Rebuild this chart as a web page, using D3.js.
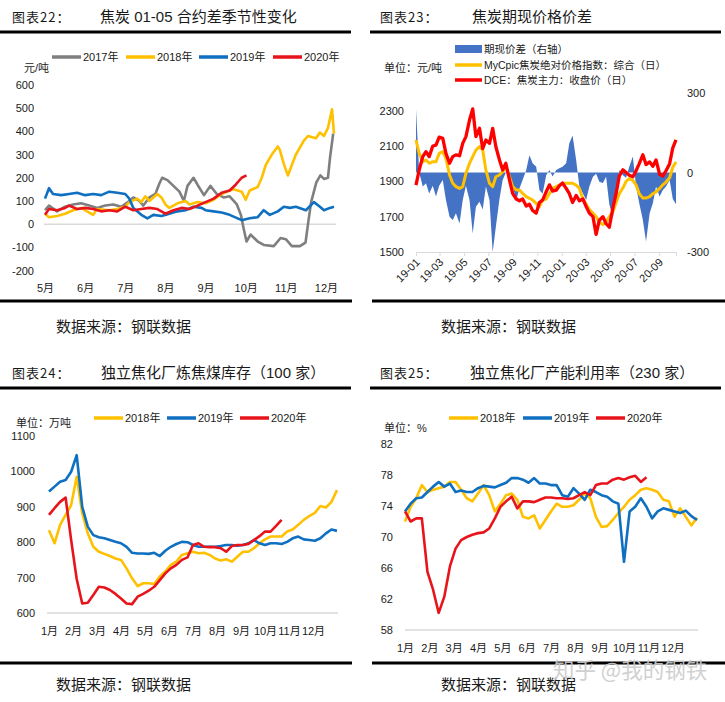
<!DOCTYPE html>
<html>
<head>
<meta charset="utf-8">
<script src="https://cdn.jsdelivr.net/npm/d3@7"></script>
<style>
  body { margin: 0; background: #fff; }
  svg text { font-family: "Liberation Sans", "Noto Sans CJK SC", sans-serif; fill: #1a1a1a; }
  .cjk { font-family: "Noto Sans CJK SC", sans-serif; }
</style>
</head>
<body>
<div id="chart"></div>
<script>
// ---------- 图表22 焦炭01-05合约差 (x: month, y: 元/吨)
var monthTicks22 = [5, 6, 7, 8, 9, 10, 11, 12];
var monthLabels22 = ["5月", "6月", "7月", "8月", "9月", "10月", "11月", "12月"];
var spread2017 = [[5.0,60],[5.1,80],[5.3,55],[5.5,75],[5.7,85],[5.9,90],[6.1,80],[6.3,70],[6.5,80],[6.7,85],[6.9,75],[7.1,100],[7.2,115],[7.35,100],[7.45,80],[7.6,115],[7.75,130],[7.85,175],[7.92,200],[8.05,190],[8.2,165],[8.35,140],[8.46,100],[8.55,165],[8.7,200],[8.8,170],[8.96,125],[9.12,165],[9.28,130],[9.45,115],[9.6,120],[9.78,85],[9.88,40],[9.95,-20],[10.02,-75],[10.12,-45],[10.3,-75],[10.45,-90],[10.7,-95],[10.87,-60],[11.0,-65],[11.15,-95],[11.35,-95],[11.49,-80],[11.56,10],[11.63,95],[11.76,180],[11.86,210],[11.95,195],[12.05,200],[12.1,285],[12.18,390]];
var spread2018 = [[5.0,45],[5.1,30],[5.3,35],[5.5,45],[5.7,60],[5.9,70],[6.1,50],[6.2,40],[6.3,65],[6.6,60],[6.8,65],[7.0,75],[7.1,95],[7.3,110],[7.4,95],[7.5,120],[7.6,100],[7.8,130],[7.9,115],[8.0,85],[8.1,70],[8.3,90],[8.5,100],[8.6,85],[8.8,95],[9.0,90],[9.2,105],[9.4,130],[9.6,145],[9.7,150],[9.9,140],[10.0,105],[10.1,145],[10.3,160],[10.4,200],[10.5,255],[10.65,300],[10.8,335],[10.85,320],[10.95,260],[11.05,210],[11.15,255],[11.25,300],[11.45,360],[11.55,380],[11.75,370],[11.85,395],[11.95,380],[12.05,415],[12.15,495],[12.2,390]];
var spread2019 = [[5.0,110],[5.1,155],[5.2,130],[5.4,125],[5.6,130],[5.8,135],[6.0,125],[6.2,130],[6.4,125],[6.6,140],[6.8,135],[7.0,130],[7.1,110],[7.2,70],[7.4,40],[7.55,25],[7.7,40],[7.9,35],[8.1,45],[8.3,55],[8.5,60],[8.7,75],[8.9,70],[9.0,60],[9.2,55],[9.4,50],[9.6,40],[9.8,25],[9.9,17],[10.1,25],[10.3,30],[10.45,60],[10.6,40],[10.8,55],[10.95,75],[11.1,70],[11.25,75],[11.5,60],[11.7,95],[11.85,75],[11.95,60],[12.1,70],[12.2,75]];
var spread2020 = [[5.0,40],[5.1,65],[5.3,60],[5.5,70],[5.6,80],[5.8,65],[6.0,70],[6.2,65],[6.4,55],[6.6,60],[6.8,55],[7.0,75],[7.2,60],[7.4,65],[7.6,70],[7.8,65],[8.0,45],[8.2,60],[8.4,70],[8.6,65],[8.8,80],[9.0,95],[9.2,110],[9.4,135],[9.6,145],[9.75,170],[9.9,200],[10.02,210]];

// ---------- 图表23 焦炭期现价格价差 (samples every ~8 days from 2019-01-01)
var basis23 = [240,0,-53,-41,-79,-50,-91,-50,-28,-104,
  -167,-179,-154,-192,-104,-50,-104,-230,-129,-110,
  -140,-53,-104,-300,-204,-100,-28,0,-10,-53,
  -104,-60,-28,9,65,35,22,-66,-80,-10,
  9,-15,9,16,22,35,110,140,47,-53,
  -79,-104,-53,-16,-5,-35,-40,-16,-120,-170,
  -100,9,-10,-20,22,60,-53,-116,-179,-260,
  -154,-116,-53,-91,-66,-53,-28,-100,-120];
var mycpic23 = [2134,2058,2011,2021,2002,2011,2011,2058,2068,2030,
  1936,1889,1870,1860,1870,1945,2002,2040,2077,2096,
  2077,1964,1889,1870,1926,1936,1955,1983,1926,1870,
  1851,1851,1832,1813,1804,1794,1775,1757,1794,1800,
  1830,1860,1870,1879,1889,1889,1889,1889,1879,1860,
  1800,1770,1740,1720,1700,1670,1655,1670,1700,1726,
  1780,1830,1862,1900,1915,1905,1880,1830,1805,1805,
  1813,1830,1840,1860,1880,1896,1920,1980,2010];
var dce23 = [1879,1964,2040,2068,2040,2100,2105,2150,2143,2058,
  2002,2040,2050,2045,2115,2153,2247,2310,2153,2200,
  2085,2134,2115,2200,2096,2021,1964,2002,1908,1832,
  1800,1790,1800,1760,1770,1735,1720,1780,1794,1841,
  1880,1845,1850,1875,1890,1860,1830,1780,1820,1790,
  1800,1757,1720,1700,1600,1680,1700,1660,1640,1750,
  1830,1930,1965,1950,1935,1926,1960,2000,2050,1995,
  2010,1985,2021,1940,1930,1960,2000,2090,2134];
var leftTicks23 = [1500, 1700, 1900, 2100, 2300];
var rightTicks23 = [-300, 0, 300];

// ---------- 图表24 炼焦煤库存 (weekly, 万吨)
var monthLabels = ["1月","2月","3月","4月","5月","6月","7月","8月","9月","10月","11月","12月"];
var inv2018 = [834,797,849,877,905,985,882,825,787,773,767,761,754,750,726,698,676,684,684,682,703,717,736,745,764,769,773,769,770,764,754,748,752,745,759,773,773,783,797,808,816,816,816,830,836,849,863,874,883,902,898,914,947];
var inv2019 = [943,957,971,976,999,1046,900,844,820,814,811,806,801,797,787,770,768,768,767,770,761,776,787,795,801,800,792,787,787,787,787,789,792,792,790,792,797,806,797,792,797,797,795,801,811,816,808,806,804,811,825,836,832];
var inv2020 = [877,896,914,926,806,696,627,629,651,674,672,665,654,641,627,625,646,654,663,674,693,712,726,736,750,757,792,797,787,786,786,783,773,789,792,792,795,806,817,830,830,846,863];

// ---------- 图表25 产能利用率 (weekly, %)
var util2018 = [72.0,73.9,75.0,76.7,75.8,76.1,76.3,76.5,77.1,77.1,76.1,75.0,74.6,75.6,76.7,75.4,73.3,74.3,75.4,75.6,74.8,72.6,72.4,72.8,71.1,72.2,73.3,74.3,73.9,73.9,74.1,74.8,75.6,75.0,72.6,71.3,71.4,72.2,73.1,73.9,74.8,75.4,76.1,76.3,76.1,75.8,74.8,74.6,72.6,73.7,72.6,71.5,72.5];
var util2019 = [73.3,74.3,75.0,75.1,75.8,76.5,77.1,76.5,76.9,75.8,76.0,75.8,75.8,76.3,76.6,76.5,76.4,76.7,77.0,77.6,77.6,77.4,77.0,77.6,76.9,76.9,76.7,76.7,75.4,75.2,76.3,75.6,74.8,76.1,75.8,75.4,75.2,74.6,74.3,66.8,73.3,73.9,75.0,73.9,72.4,73.3,73.7,73.5,73.3,73.1,73.4,72.7,72.2];
var util2020 = [73.3,72.0,72.4,72.4,65.5,63.2,60.2,62.3,66.2,68.5,69.6,70.0,70.3,70.5,70.6,71.1,72.4,73.9,74.6,75.2,73.7,74.6,74.6,74.5,74.8,75.1,75.1,75.0,75.0,74.9,75.0,75.4,75.8,75.4,76.7,76.9,76.9,77.4,77.6,77.4,77.7,77.9,77.1,77.7];

var GRAY = "#7f7f7f", YELLOW = "#ffc000", BLUE = "#0f6fc0", RED = "#e8141b";
var plain = function(d) { return String(d); };   // keep "-200", no thousands comma

var svg = d3.select("#chart").append("svg")
    .attr("width", 725)
    .attr("height", 702);

/*
 * common pieces
 */
function header(tag, tagX, title, titleX, y, rx0, rx1) {
    svg.append("text").attr("class", "cjk").attr("x", tagX).attr("y", y)
        .attr("font-size", 13).attr("letter-spacing", 1).text(tag);
    svg.append("text").attr("x", titleX).attr("y", y)
        .attr("font-size", 15).text(title);
    svg.append("line").attr("x1", rx0).attr("x2", rx1).attr("y1", y + 10).attr("y2", y + 10)
        .attr("stroke", "#000").attr("stroke-width", 3);
}

function footer(rx0, rx1, y, tx, ty) {
    svg.append("line").attr("x1", rx0).attr("x2", rx1).attr("y1", y).attr("y2", y)
        .attr("stroke", "#000").attr("stroke-width", 3);
    svg.append("text").attr("class", "cjk").attr("x", tx).attr("y", ty)
        .attr("font-size", 15).text("数据来源：钢联数据");
}

function legend(items, y, sw) {
    items.forEach(function(it) {
        svg.append("line").attr("x1", it.x).attr("x2", it.x + 29).attr("y1", y).attr("y2", y)
            .attr("stroke", it.color).attr("stroke-width", sw);
        svg.append("text").attr("x", it.x + 31).attr("y", y).attr("dy", "0.36em")
            .attr("font-size", 11).text(it.label);
    });
}

function clean(g) {
    g.select(".domain").remove();
    g.selectAll("text").attr("font-size", 11).attr("fill", "#1a1a1a");
}

/*
 * 图表22
 */
header("图表22：", 12, "焦炭 01-05 合约差季节性变化", 100, 22, 0, 351);
footer(0, 352, 301, 56, 332);

var x22 = d3.scaleLinear().domain([5, 12.25]).range([45, 336]);
var y22 = d3.scaleLinear().domain([-200, 600]).range([270.5, 85]);

svg.append("line").attr("x1", 44).attr("x2", 336)
    .attr("y1", y22(0)).attr("y2", y22(0))
    .attr("stroke", "#d9d9d9").attr("stroke-width", 1.5);

svg.append("g").attr("transform", "translate(44,0)")
    .call(d3.axisLeft(y22).tickValues(d3.range(-200, 601, 100)).tickFormat(plain).tickSize(0).tickPadding(10))
    .call(clean);
svg.append("g").attr("transform", "translate(0,271)")
    .call(d3.axisBottom(x22).tickValues(monthTicks22).tickFormat(function(d, i) { return monthLabels22[i]; })
        .tickSize(0).tickPadding(13))
    .call(clean);

var line22 = d3.line().x(function(d) { return x22(d[0]); }).y(function(d) { return y22(d[1]); });
[[spread2017, GRAY], [spread2018, YELLOW], [spread2019, BLUE], [spread2020, RED]].forEach(function(s) {
    svg.append("path").datum(s[0]).attr("d", line22)
        .attr("fill", "none").attr("stroke", s[1]).attr("stroke-width", 2.6)
        .attr("stroke-linejoin", "round");
});

legend([
    {x: 52, color: GRAY, label: "2017年"},
    {x: 126, color: YELLOW, label: "2018年"},
    {x: 199, color: BLUE, label: "2019年"},
    {x: 273, color: RED, label: "2020年"}
], 57, 3.5);
svg.append("text").attr("x", 24).attr("y", 72).attr("font-size", 11).text("元/吨");

/*
 * 图表23
 */
header("图表23：", 380, "焦炭期现价格价差", 472, 22, 370, 721);
footer(372, 725, 301, 441, 332);

var start23 = new Date(2019, 0, 1);
var dates23 = d3.range(dce23.length).map(function(i) { return d3.timeDay.offset(start23, Math.round(i * 8.35)); });
var x23 = d3.scaleTime().domain([start23, new Date(2020, 9, 13)]).range([416, 676]);
var yL23 = d3.scaleLinear().domain([1500, 2400]).range([252, 93]);
var yR23 = d3.scaleLinear().domain([-300, 300]).range([252, 93]);

svg.append("path").datum(basis23)
    .attr("d", d3.area()
        .x(function(d, i) { return x23(dates23[i]); })
        .y0(yR23(0))
        .y1(function(d) { return yR23(d); }))
    .attr("fill", "#4472c4");

var ax23 = svg.append("g").attr("transform", "translate(0,252)")
    .call(d3.axisBottom(x23).tickValues(d3.timeMonth.range(start23, new Date(2020, 9, 2), 2))
        .tickFormat(d3.timeFormat("%y-%m")).tickSize(4));
ax23.select(".domain").attr("stroke", "#d9d9d9");
ax23.selectAll(".tick line").attr("stroke", "#d9d9d9");
ax23.selectAll("text")
    .attr("font-size", 11).attr("fill", "#1a1a1a")
    .attr("y", 0).attr("dy", 0)
    .attr("text-anchor", "end")
    .attr("transform", "translate(4,11) rotate(-45)");

svg.append("g").attr("transform", "translate(412,0)")
    .call(d3.axisLeft(yL23).tickValues(leftTicks23).tickFormat(plain).tickSize(0).tickPadding(8))
    .call(clean);
svg.append("g").attr("transform", "translate(681,0)")
    .call(d3.axisRight(yR23).tickValues(rightTicks23).tickFormat(plain).tickSize(0).tickPadding(6))
    .call(clean);

var line23 = d3.line().x(function(d, i) { return x23(dates23[i]); }).y(function(d) { return yL23(d); });
svg.append("path").datum(mycpic23).attr("d", line23)
    .attr("fill", "none").attr("stroke", YELLOW).attr("stroke-width", 3).attr("stroke-linejoin", "round");
svg.append("path").datum(dce23).attr("d", line23)
    .attr("fill", "none").attr("stroke", "#ff0000").attr("stroke-width", 3.3).attr("stroke-linejoin", "round");

svg.append("rect").attr("x", 455).attr("y", 45).attr("width", 27).attr("height", 8).attr("fill", "#4472c4");
svg.append("text").attr("x", 484).attr("y", 49).attr("dy", "0.36em").attr("font-size", 10.5).text("期现价差（右轴）");
svg.append("line").attr("x1", 455).attr("x2", 482).attr("y1", 65).attr("y2", 65).attr("stroke", YELLOW).attr("stroke-width", 3.5);
svg.append("text").attr("x", 484).attr("y", 65).attr("dy", "0.36em").attr("font-size", 10.5).text("MyCpic焦炭绝对价格指数：综合（日）");
svg.append("line").attr("x1", 455).attr("x2", 482).attr("y1", 80).attr("y2", 80).attr("stroke", "#ff0000").attr("stroke-width", 3.5);
svg.append("text").attr("x", 484).attr("y", 80).attr("dy", "0.36em").attr("font-size", 10.5).text("DCE：焦炭主力：收盘价（日）");
svg.append("text").attr("x", 384).attr("y", 72).attr("font-size", 11).text("单位：元/吨");

/*
 * 图表24
 */
header("图表24：", 12, "独立焦化厂炼焦煤库存（100 家）", 101, 378, 0, 351);
footer(0, 352, 663, 56, 690);

var x24 = d3.scaleLinear().domain([0, 52]).range([49, 337]);
var y24 = d3.scaleLinear().domain([600, 1100]).range([613, 436]);

svg.append("line").attr("x1", 47).attr("x2", 338).attr("y1", y24(600)).attr("y2", y24(600))
    .attr("stroke", "#d9d9d9").attr("stroke-width", 1.5);
svg.append("g").attr("transform", "translate(45,0)")
    .call(d3.axisLeft(y24).tickValues(d3.range(600, 1101, 100)).tickFormat(plain).tickSize(0).tickPadding(10))
    .call(clean);
svg.append("g").attr("transform", "translate(0,613)")
    .call(d3.axisBottom(x24).tickValues(d3.range(12).map(function(i) { return i * 52 / 12; }))
        .tickFormat(function(d, i) { return monthLabels[i]; }).tickSize(0).tickPadding(14))
    .call(clean);

var line24 = d3.line().x(function(d, i) { return x24(i); }).y(function(d) { return y24(d); });
[[inv2018, YELLOW], [inv2019, BLUE], [inv2020, RED]].forEach(function(s) {
    svg.append("path").datum(s[0]).attr("d", line24)
        .attr("fill", "none").attr("stroke", s[1]).attr("stroke-width", 2.6).attr("stroke-linejoin", "round");
});
legend([
    {x: 94, color: YELLOW, label: "2018年"},
    {x: 167, color: BLUE, label: "2019年"},
    {x: 240, color: RED, label: "2020年"}
], 418, 3.5);
svg.append("text").attr("x", 16).attr("y", 427).attr("font-size", 11).text("单位：万吨");

/*
 * 图表25
 */
header("图表25：", 380, "独立焦化厂产能利用率（230 家）", 470, 378, 370, 721);
footer(372, 725, 663, 441, 690);

var x25 = d3.scaleLinear().domain([0, 52]).range([405, 697]);
var y25 = d3.scaleLinear().domain([58, 82]).range([630, 444]);

svg.append("line").attr("x1", 405).attr("x2", 698).attr("y1", y25(58)).attr("y2", y25(58))
    .attr("stroke", "#d9d9d9").attr("stroke-width", 1.5);
svg.append("g").attr("transform", "translate(403,0)")
    .call(d3.axisLeft(y25).tickValues(d3.range(58, 83, 4)).tickFormat(plain).tickSize(0).tickPadding(10))
    .call(clean);
svg.append("g").attr("transform", "translate(0,630)")
    .call(d3.axisBottom(x25).tickValues(d3.range(12).map(function(i) { return i * 52 / 12; }))
        .tickFormat(function(d, i) { return monthLabels[i]; }).tickSize(0).tickPadding(14))
    .call(clean);

var line25 = d3.line().x(function(d, i) { return x25(i); }).y(function(d) { return y25(d); });
[[util2018, YELLOW], [util2019, BLUE], [util2020, RED]].forEach(function(s) {
    svg.append("path").datum(s[0]).attr("d", line25)
        .attr("fill", "none").attr("stroke", s[1]).attr("stroke-width", 2.6).attr("stroke-linejoin", "round");
});
legend([
    {x: 449, color: YELLOW, label: "2018年"},
    {x: 523, color: BLUE, label: "2019年"},
    {x: 596, color: RED, label: "2020年"}
], 418, 3.5);
svg.append("text").attr("x", 384).attr("y", 432).attr("font-size", 11).text("单位：%");

// watermark
svg.append("text").attr("class", "cjk").attr("x", 553).attr("y", 678)
    .attr("font-size", 21.5).style("fill", "#cccccc").style("opacity", 0.9)
    .text("知乎 @我的钢铁");
</script>
</body>
</html>
